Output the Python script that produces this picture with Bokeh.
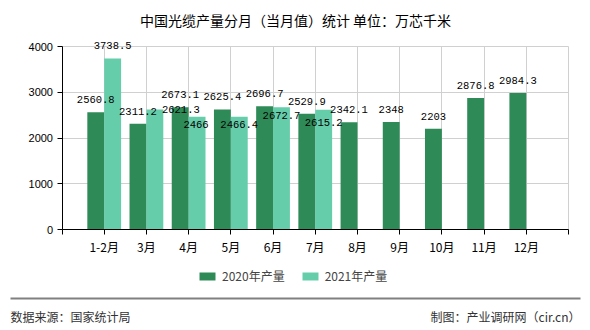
from bokeh.plotting import figure
from bokeh.models import (Range1d, FixedTicker, LabelSet, Label, Legend, LegendItem,
                          ColumnDataSource, BoxAnnotation)
from bokeh.core.properties import value
from bokeh.embed import file_html
from bokeh.resources import INLINE
import numpy as np

# ---- data ----
months = ["1-2月", "3月", "4月", "5月", "6月", "7月", "8月", "9月", "10月", "11月", "12月"]
prod_2020 = [2560.8, 2311.2, 2673.1, 2625.4, 2696.7, 2529.9, 2342.1, 2348, 2203, 2876.8, 2984.3]
prod_2021 = [3738.5, 2621.3, 2466, 2466.4, 2672.7, 2615.2]
y_ticks = [0, 1000, 2000, 3000, 4000]

# label layout tweaks for the 2021 series (pixels)
lab21_dx = [0, 26, -1, 0, 0, 0]
lab21_dy = [13, 0, -8, -8, -8, -13]

C20 = "#2E8B57"
C21 = "#66CDAA"
CJK = "Noto Sans CJK SC"

W, H = 590, 330
# plotting area in canvas pixels
PL, PR = 61.5, 568.0     # x of category 0 and of the right end
PB, PT = 229.0, 46.0     # y of value 0 and of value 4000
XMAX = len(months) + 1
YMAX = 4000
xppu = (PR - PL) / XMAX
yppu = (PB - PT) / YMAX
x_range = Range1d(-PL / xppu, XMAX + (W - PR) / xppu)
y_range = Range1d(-(H - PB) / yppu, PB / yppu)


def cx(px):  # canvas px -> data x (layout-only decorations)
    return (px - PL) / xppu


def cy(py):  # canvas px -> data y
    return (PB - py) / yppu


p = figure(width=W, height=H, output_backend="svg", toolbar_location=None,
           x_range=x_range, y_range=y_range,
           min_border=0, min_border_left=0, min_border_right=0,
           min_border_top=0, min_border_bottom=0)
p.outline_line_color = None
p.background_fill_color = "white"
p.border_fill_color = "white"

pos = np.arange(1, len(months) + 1)
bw = 0.4
src20 = ColumnDataSource(dict(x=pos - bw / 2, top=prod_2020,
                              txt=[f"{v:g}" for v in prod_2020]))
pos21 = pos[:len(prod_2021)]
src21 = ColumnDataSource(dict(x=pos21 + bw / 2, top=prod_2021,
                              txt=[f"{v:g}" for v in prod_2021],
                              dx=lab21_dx, dy=lab21_dy))

# axes drawn at fixed locations inside the frame
xt = list(range(0, XMAX + 1))
ax = p.xaxis[0]
ax.fixed_location = 0
ax.bounds = (0, XMAX)
ax.ticker = FixedTicker(ticks=xt)
ax.major_label_overrides = {i: (months[i - 1] if 1 <= i <= len(months) else "") for i in xt}
ax.major_label_text_font = CJK
ax.major_label_text_font_size = "12px"
ax.major_label_text_color = "#000000"
ax.major_label_standoff = 3
ax.axis_line_color = "#000000"
ax.major_tick_line_color = "#000000"
ax.major_tick_in = 0
ax.major_tick_out = 5
ax.minor_tick_line_color = None

ay = p.yaxis[0]
ay.fixed_location = 0
ay.bounds = (0, YMAX)
ay.ticker = FixedTicker(ticks=y_ticks)
ay.major_label_text_font = "Liberation Sans"
ay.major_label_text_font_size = "11px"
ay.major_label_text_color = "#000000"
ay.major_label_standoff = 4
ay.axis_line_color = "#000000"
ay.major_tick_line_color = "#000000"
ay.major_tick_in = 0
ay.major_tick_out = 5
ay.minor_tick_line_color = None

p.xgrid.ticker = FixedTicker(ticks=xt[1:])
p.xgrid.grid_line_color = "#d0d0d0"
p.xgrid.cross_bounds = (0, YMAX)
p.ygrid.ticker = FixedTicker(ticks=y_ticks[1:])
p.ygrid.grid_line_color = "#d0d0d0"
p.ygrid.cross_bounds = (0, XMAX)

r20 = p.vbar(x="x", top="top", width=bw, source=src20, fill_color=C20, line_color=None)
r21 = p.vbar(x="x", top="top", width=bw, source=src21, fill_color=C21, line_color=None)

# value labels
p.add_layout(LabelSet(x="x", y="top", text="txt", source=src20, y_offset=12.5,
                      text_align="center", text_baseline="middle",
                      text_font=value("Liberation Mono"), text_font_size=value("10.5px"),
                      text_color="#000000"))
p.add_layout(LabelSet(x="x", y="top", text="txt", source=src21, x_offset="dx", y_offset="dy",
                      text_align="center", text_baseline="middle",
                      text_font=value("Liberation Mono"), text_font_size=value("10.5px"),
                      text_color="#000000"))

# title
p.add_layout(Label(x=W / 2, y=H - 19, x_units="screen", y_units="screen",
                   text="中国光缆产量分月（当月值）统计 单位：万芯千米",
                   text_align="center", text_baseline="middle",
                   text_font=CJK, text_font_size="14px", text_color="#000000"))

# legend
legend = Legend(items=[LegendItem(label="2020年产量", renderers=[r20]),
                       LegendItem(label="2021年产量", renderers=[r21])],
                orientation="horizontal", location=(197, H - 284),
                padding=0, margin=0, spacing=15, label_standoff=5,
                glyph_width=20, glyph_height=10, label_height=12,
                label_text_font=CJK, label_text_font_size="12px",
                label_text_baseline="middle",
                border_line_color=None, background_fill_alpha=0)
p.add_layout(legend)

# footer separator (a thin filled band) and texts
p.add_layout(BoxAnnotation(left=cx(10), right=cx(580), top=cy(297), bottom=cy(299),
                           fill_color="#808080", fill_alpha=1, line_color=None))
p.add_layout(Label(x=10, y=H - 316, x_units="screen", y_units="screen",
                   text="数据来源：国家统计局", text_align="left", text_baseline="middle",
                   text_font=CJK, text_font_size="12px", text_color="#333333"))
p.add_layout(Label(x=580, y=H - 316, x_units="screen", y_units="screen",
                   text="制图：产业调研网（cir.cn）", text_align="right", text_baseline="middle",
                   text_font=CJK, text_font_size="12px", text_color="#333333"))

open("out.html", "w").write(file_html(p, INLINE))
